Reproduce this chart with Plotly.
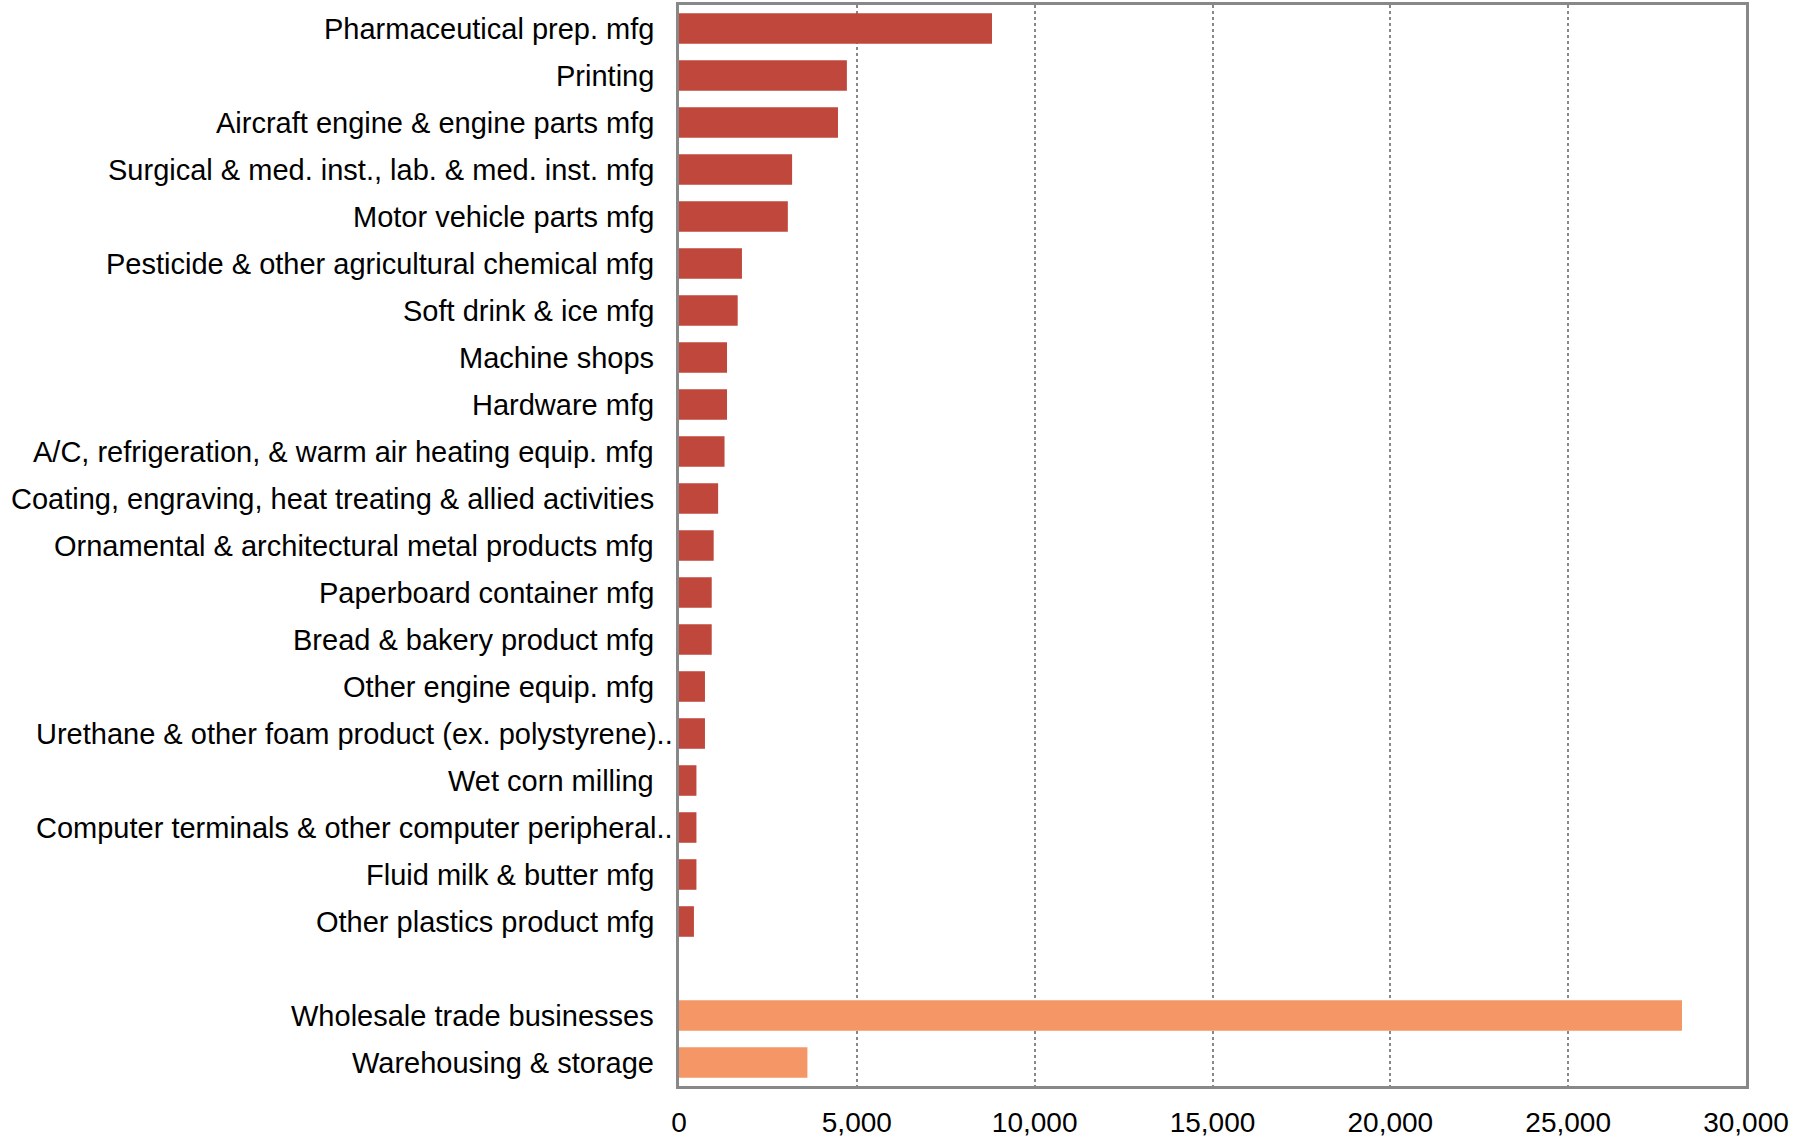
import plotly.graph_objects as go

# Manufacturing industries (red) and distribution industries (orange)
mfg_industries = [
    "Pharmaceutical prep. mfg",
    "Printing",
    "Aircraft engine & engine parts mfg",
    "Surgical & med. inst., lab. & med. inst. mfg",
    "Motor vehicle parts mfg",
    "Pesticide & other agricultural chemical mfg",
    "Soft drink & ice mfg",
    "Machine shops",
    "Hardware mfg",
    "A/C, refrigeration, & warm air heating equip. mfg",
    "Coating, engraving, heat treating & allied activities",
    "Ornamental & architectural metal products mfg",
    "Paperboard container mfg",
    "Bread & bakery product mfg",
    "Other engine equip. mfg",
    "Urethane & other foam product (ex. polystyrene)..",
    "Wet corn milling",
    "Computer terminals & other computer peripheral..",
    "Fluid milk & butter mfg",
    "Other plastics product mfg",
]
mfg_values = [8800, 4720, 4470, 3180, 3060, 1770, 1650, 1350, 1350, 1280,
              1100, 975, 920, 920, 730, 730, 490, 490, 490, 420]

dist_industries = ["Wholesale trade businesses", "Warehousing & storage"]
dist_values = [28200, 3610]

gap_row = " "
category_order = mfg_industries + [gap_row] + dist_industries

x_ticks = [0, 5000, 10000, 15000, 20000, 25000, 30000]

FONT = "Liberation Sans, Arial, sans-serif"
RED = "#C0473B"
ORANGE = "#F49666"
FRAME = "#888888"

fig = go.Figure()
fig.add_trace(go.Bar(
    y=mfg_industries, x=mfg_values, orientation="h",
    marker=dict(color=RED, line=dict(width=0)), width=0.65,
    showlegend=False, hoverinfo="x+y",
))
fig.add_trace(go.Bar(
    y=dist_industries, x=dist_values, orientation="h",
    marker=dict(color=ORANGE, line=dict(width=0)), width=0.65,
    showlegend=False, hoverinfo="x+y",
))

# Category labels, right-aligned against the axis; truncated ones overhang a bit
for name in mfg_industries + dist_industries:
    shift = -4 if name.endswith("..") else -23
    fig.add_annotation(
        text=name, xref="paper", x=0, yref="y", y=name,
        xanchor="right", yanchor="middle", xshift=shift, showarrow=False,
        font=dict(family=FONT, size=29, color="#000000"),
    )

fig.update_layout(
    width=1807, height=1140,
    margin=dict(l=679, r=61, t=5, b=54, autoexpand=False),
    paper_bgcolor="white", plot_bgcolor="white",
    bargap=0.35,
    font=dict(family=FONT, size=28, color="#000000"),
)
fig.update_xaxes(
    range=[0, 30000], tickvals=x_ticks, tickformat=",",
    ticks="", ticklabelstandoff=9, automargin=False,
    showgrid=True, gridcolor=FRAME, griddash="dot", gridwidth=1.5,
    zeroline=False,
    showline=True, linecolor=FRAME, linewidth=3, mirror=True,
    tickfont=dict(family=FONT, size=28, color="#000000"),
    fixedrange=True,
)
fig.update_yaxes(
    type="category", categoryorder="array", categoryarray=category_order,
    range=[len(category_order) - 0.5, -0.5],
    showticklabels=False, ticks="", showgrid=False, zeroline=False,
    showline=True, linecolor=FRAME, linewidth=3, mirror=True,
    automargin=False, fixedrange=True,
)

fig.write_html("out.html")
